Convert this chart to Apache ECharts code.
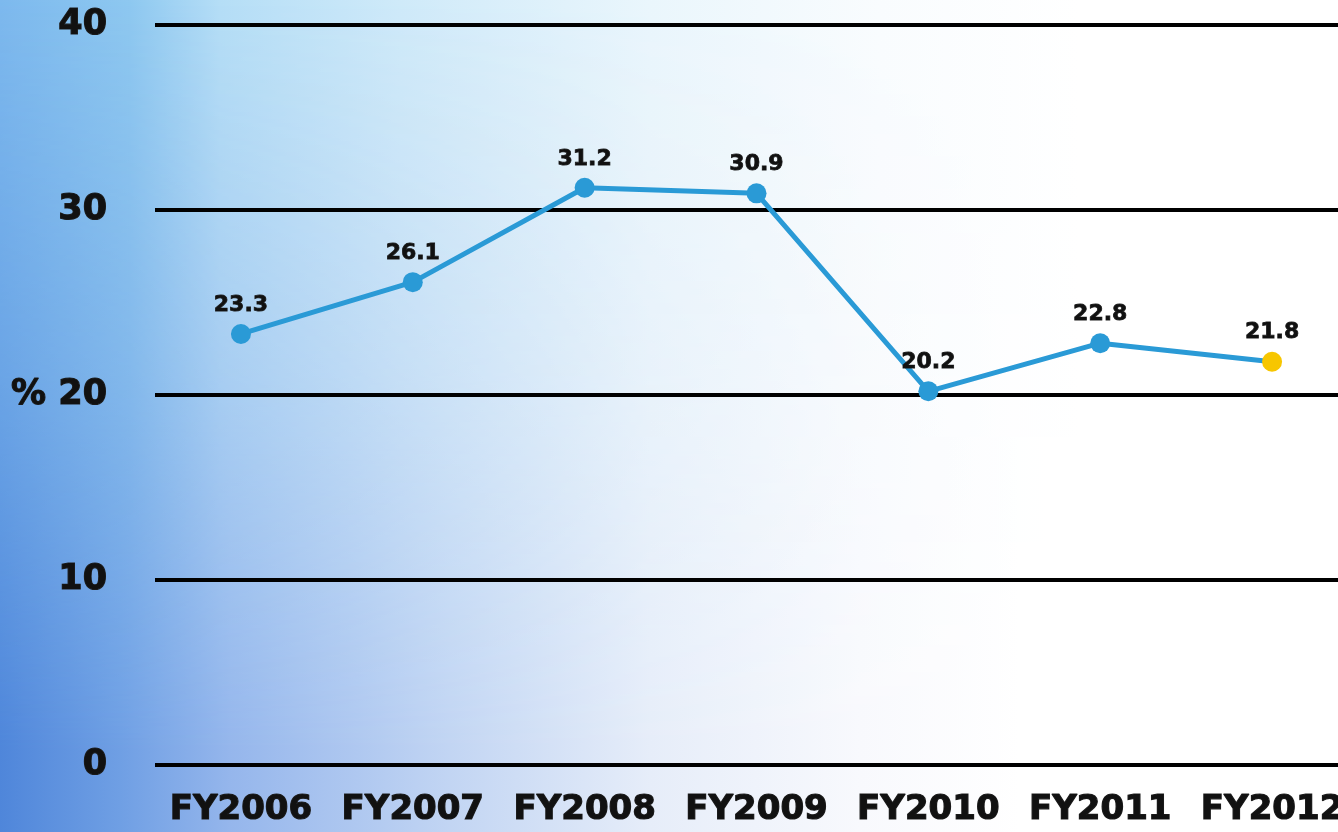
<!DOCTYPE html>
<html><head><meta charset="utf-8">
<script src="https://cdn.jsdelivr.net/npm/echarts@6/dist/echarts.min.js"></script>
<style>
html,body{margin:0;padding:0;width:1338px;height:832px;overflow:hidden;}
body{position:relative;background:linear-gradient(to right,#7db9ee 0px,#8ec8f0 130px,#b5def6 220px,#cfeaf9 400px,#eaf6fc 650px,#f9fcfe 880px,#ffffff 1080px);}
#bgb{position:absolute;left:0;top:0;width:1338px;height:832px;
 background:linear-gradient(to right,#4f86da 0px,#6f9fe4 120px,#95b6ec 230px,#c2d5f3 450px,#e6edf9 650px,#f8f9fd 860px,#ffffff 1020px);
 -webkit-mask-image:linear-gradient(to bottom,rgba(0,0,0,0) 0%,rgba(0,0,0,0.4) 45%,rgba(0,0,0,1) 90%);
 mask-image:linear-gradient(to bottom,rgba(0,0,0,0) 0%,rgba(0,0,0,0.4) 45%,rgba(0,0,0,1) 90%);}
#c{position:absolute;left:0;top:0;width:1400px;height:832px;}
</style></head>
<body><div id="bgb"></div><div id="c"></div>
<script>
const categories = ['FY2006','FY2007','FY2008','FY2009','FY2010','FY2011','FY2012'];
const values = [23.3, 26.1, 31.2, 30.9, 20.2, 22.8, 21.8];
const yTicks = [0, 10, 20, 30, 40];
const highlightIndex = 6;

const chart = echarts.init(document.getElementById('c'), null, {renderer:'canvas'});
const data = values.map((v,i)=> i===highlightIndex ? {value:v, itemStyle:{color:'#f7c600'}} : v);
chart.setOption({
  animation:false,
  grid:{left:155, width:1203, top:25, height:740, containLabel:false},
  xAxis:{type:'category', data:categories, boundaryGap:true,
    axisLine:{show:false}, axisTick:{show:false},
    axisLabel:{interval:0, fontFamily:'DejaVu Sans', fontWeight:'bold', fontSize:34, color:'#111',
      textBorderColor:'#222', textBorderWidth:1.2, margin:28}},
  yAxis:{type:'value', min:yTicks[0], max:yTicks[yTicks.length-1], interval:10,
    axisLine:{show:false}, axisTick:{show:false},
    splitLine:{lineStyle:{color:'#000', width:4}},
    axisLabel:{fontFamily:'DejaVu Sans', fontWeight:'bold', fontSize:35, color:'#111', margin:48,
      textBorderColor:'#222', textBorderWidth:1.2, padding:[6,0,0,0],
      formatter:v=> (v===20 ? '% ' : '') + v}},
  series:[{type:'line', data:data, symbol:'circle', symbolSize:20,
    lineStyle:{color:'#2a9ad6', width:5},
    itemStyle:{color:'#2a9ad6'},
    label:{show:true, position:'top', distance:8, fontFamily:'DejaVu Sans', fontWeight:'bold', fontSize:22, color:'#111',
      textBorderColor:'#222', textBorderWidth:0.8}}]
});
</script></body></html>
